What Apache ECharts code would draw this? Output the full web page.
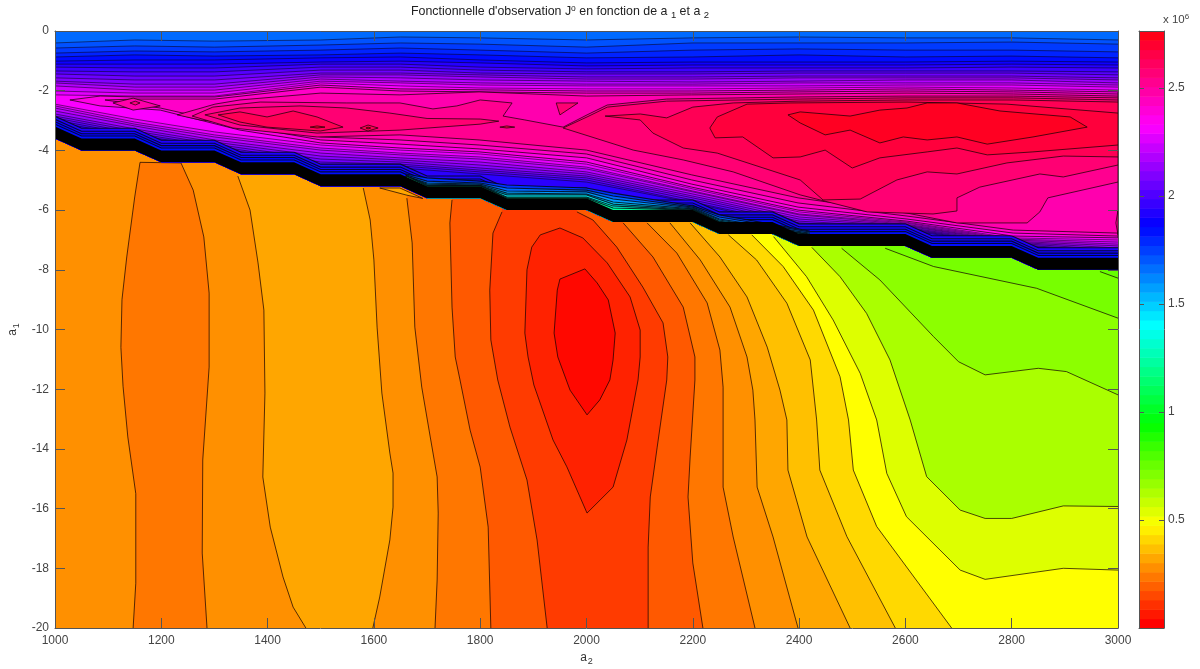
<!DOCTYPE html>
<html>
<head>
<meta charset="utf-8">
<style>html,body{margin:0;padding:0;background:#fff}#chart{width:1200px;height:669px}</style>
<script src="https://cdn.jsdelivr.net/npm/echarts@6/dist/echarts.min.js"></script>
</head>
<body>
<div id="chart"></div>
<script>
// ---- axis ticks and scale (values in units of 10^6 for J°) ----
const xTicks = [1000,3000,200];
const yTicks = [-20,0,2];
const colorMax = 2.764;
const colorbarLabels = [0.5,1,1.5,2,2.5];
const colorbarSteps = [0,.043,.086,.130,.173,.216,.259,.302,.346,.389,.432,.475,.518,.562,.605,.648,.691,.734,.778,.821,.864,.907,.950,.994,1.037,1.080,1.123,1.166,1.210,1.253,1.296,1.339,1.382,1.426,1.469,1.512,1.555,1.598,1.642,1.685,1.728,1.771,1.814,1.858,1.901,1.944,1.987,2.030,2.074,2.117,2.160,2.203,2.246,2.290,2.333,2.376,2.419,2.462,2.506,2.549,2.592,2.635,2.678,2.722];

// ---- dense step (black) between the low and the high part ----
const blackTop = [[1000,-3.2],[1050,-3.6],[1150,-3.6],[1200,-4],[1300,-4],[1350,-4.4],[1450,-4.4],[1500,-4.8],[1650,-4.8],[1700,-5.2],[1800,-5.2],[1850,-5.6],[2000,-5.6],[2050,-6],[2200,-6],[2250,-6.4],[2350,-6.4],[2400,-6.8],[2600,-6.8],[2650,-7.2],[2800,-7.2],[2850,-7.6],[3000,-7.6]];
const blackBottom = [[1000,-3.6],[1050,-4],[1150,-4],[1200,-4.4],[1300,-4.4],[1350,-4.8],[1450,-4.8],[1500,-5.2],[1650,-5.2],[1700,-5.6],[1800,-5.6],[1850,-6],[2000,-6],[2050,-6.4],[2200,-6.4],[2250,-6.8],[2350,-6.8],[2400,-7.2],[2600,-7.2],[2650,-7.6],[2800,-7.6],[2850,-8],[3000,-8]];

// ---- low part: contours running from the step to the lower edge ----
const lowBase = 0.261;
const bLeft = [[1160,-4.4],[1150,-5.56],[1135,-7.57],[1126,-9],[1124,-10.6],[1128,-11.9],[1137,-13.6],[1152,-15.5],[1152,-18.5],[1147,-20]];
const bRight = [[1237,-4.42],[1260,-5.33],[1280,-6.9],[1290,-8.78],[1290,-11.26],[1278,-14.37],[1277,-17.49],[1286,-20]];
const dLeft = [[1344,-4.86],[1367,-6],[1382,-7.77],[1393,-9.35],[1395,-12.13],[1391,-14.94],[1405,-16.62],[1429,-18.29],[1448,-19.3],[1472,-20]];
const dRight = [[1580,-5.26],[1593,-6.33],[1600,-7.67],[1606,-9.92],[1615,-12.13],[1630,-14.14],[1636,-14.81],[1636,-15.95],[1630,-17.05],[1611,-18.96],[1598,-20]];
const sliver = [[1611,-5.26],[1649,-5.26],[1692,-5.61],[1662,-5.5]];
const fLeft = [[1662,-5.6],[1672,-7.1],[1677,-9.92],[1690,-11.93],[1706,-13.6],[1719,-14.94],[1721,-16.15],[1719,-18.39],[1715,-20]];
const gLeft = [[1747,-5.66],[1743,-6.43],[1747,-9.25],[1753,-10.92],[1762,-11.69],[1781,-13.37],[1800,-14.61],[1815,-16.62],[1820,-20]];
const hLeft = [[1841,-6.06],[1824,-6.77],[1818,-8.68],[1820,-10.35],[1833,-11.69],[1856,-13.27],[1888,-15.04],[1907,-17.05],[1926,-20]];
const hRight = [[1982,-6.06],[2012,-6.33],[2057,-7.24],[2106,-8.58],[2144,-9.78],[2153,-10.92],[2151,-11.69],[2133,-13.94],[2120,-15.61],[2116,-17.29],[2116,-20]];
const gRight = [[2069,-6.43],[2125,-7.57],[2182,-9.25],[2204,-10.92],[2204,-11.69],[2195,-14.27],[2191,-15.61],[2200,-17.82],[2219,-20]];
const r6 = [[2114,-6.43],[2170,-7.44],[2227,-9.11],[2251,-10.69],[2257,-11.93],[2257,-15.28],[2276,-16.95],[2317,-20]];
const r7 = [[2157,-6.43],[2214,-7.67],[2270,-9.25],[2302,-10.92],[2313,-12.03],[2317,-13.03],[2321,-15.28],[2351,-16.95],[2398,-20]];
const r8 = [[2195,-6.43],[2251,-7.57],[2302,-8.91],[2340,-10.59],[2364,-12.03],[2377,-13.03],[2379,-14.71],[2415,-16.95],[2496,-20]];
const r9 = [[2267,-6.83],[2320,-7.67],[2377,-9.12],[2421,-11.02],[2433,-13.03],[2439,-14.71],[2490,-16.94],[2581,-20]];
const r10 = [[2311,-6.83],[2370,-7.89],[2427,-9.35],[2477,-11.58],[2493,-13.03],[2502,-14.71],[2546,-16.6],[2687,-20]];
const r11 = [[2352,-6.89],[2414,-8.23],[2464,-9.68],[2515,-11.47],[2546,-13.03],[2565,-14.82],[2602,-16.27],[2703,-18.06],[2750,-18.37],[2897,-18],[3000,-18.06]];
const r12 = [[2424,-7.25],[2477,-8.23],[2527,-9.46],[2571,-11.02],[2609,-13.03],[2640,-14.93],[2703,-16.05],[2750,-16.33],[2800,-16.33],[2897,-15.91],[3000,-15.93]];
const r13 = [[2480,-7.28],[2552,-8.34],[2653,-10.24],[2700,-11.08],[2750,-11.52],[2850,-11.3],[2903,-11.41],[3000,-12.19]];
const r14 = [[2562,-7.28],[2653,-7.89],[2847,-8.62],[3000,-9.62]];
const r15 = [[2966,-8.06],[3000,-8.28]];
const midLoop = [[1950,-6.6],[1913,-6.83],[1897,-7.24],[1888,-8],[1884,-10.12],[1890,-10.92],[1901,-11.86],[1937,-13.7],[1963,-14.6],[2001,-16.15],[2050,-15.28],[2076,-13.7],[2097,-11.69],[2101,-10.92],[2101,-10.02],[2082,-8.91],[2039,-7.77],[1993,-6.93]];
const innerLoop = [[1997,-7.97],[1950,-8.31],[1945,-8.68],[1939,-10.12],[1946,-10.92],[1969,-12.03],[2001,-12.86],[2025,-12.36],[2044,-11.69],[2050,-11.02],[2054,-10.12],[2041,-9.01],[2020,-8.44]];

// ---- high part, upper flank: contour heights at shared a2 columns ----
const flankX = [1000,1150,1300,1500,1650,1800,2000,2200,2400,2600,2800,3000];
const topBase = 1.651;
const topLevels = [1.694,1.737,1.780,1.823,1.866,1.909,1.952,1.995,2.039,2.082,2.125,2.168,2.211,2.254,2.297];
const top01 = [-.40,-.30,-.34,-.30,-.20,-.23,-.30,-.23,-.20,-.23,-.23,-.30];
const top02 = [-.57,-.50,-.54,-.47,-.40,-.44,-.54,-.40,-.40,-.40,-.37,-.44];
const top03 = [-.74,-.67,-.70,-.64,-.57,-.64,-.74,-.64,-.60,-.64,-.64,-.70];
const top04 = [-.87,-.80,-.84,-.80,-.74,-.80,-.90,-.87,-.80,-.87,-.84,-.90];
const top05 = [-1.01,-.97,-.97,-.90,-.87,-.97,-1.07,-1.04,-1.04,-1.04,-1.01,-1.04];
const top06 = [-1.11,-1.11,-1.11,-1.04,-1.01,-1.07,-1.17,-1.14,-1.14,-1.14,-1.11,-1.14];
const top07 = [-1.21,-1.24,-1.24,-1.11,-1.11,-1.21,-1.27,-1.24,-1.24,-1.24,-1.21,-1.24];
const top08 = [-1.34,-1.37,-1.37,-1.21,-1.21,-1.31,-1.37,-1.37,-1.34,-1.34,-1.34,-1.37];
const top09 = [-1.44,-1.51,-1.51,-1.31,-1.31,-1.41,-1.44,-1.44,-1.41,-1.41,-1.41,-1.47];
const top10 = [-1.57,-1.64,-1.64,-1.41,-1.41,-1.47,-1.54,-1.54,-1.51,-1.51,-1.51,-1.57];
const top11 = [-1.68,-1.78,-1.78,-1.47,-1.47,-1.54,-1.61,-1.61,-1.57,-1.57,-1.57,-1.64];
const top12 = [-1.74,-1.88,-1.88,-1.54,-1.57,-1.64,-1.68,-1.71,-1.68,-1.64,-1.64,-1.74];
const top13 = [-1.84,-1.98,-1.98,-1.61,-1.68,-1.74,-1.78,-1.78,-1.74,-1.74,-1.74,-1.81];
const top14 = [-2.01,-2.08,-2.08,-1.68,-1.74,-1.81,-1.84,-1.84,-1.84,-1.81,-1.81,-1.88];
const top15 = [-2.14,-2.18,-2.18,-1.74,-1.84,-1.91,-1.94,-1.94,-1.91,-1.88,-1.91,-1.98];

// ---- high part, lower flank ----
const lowLevels = [2.265,2.219,2.181,2.134,2.088,2.050,2.004,1.966,1.920];
const low01 = [-2.45,-2.95,-3.38,-3.82,-3.99,-4.12,-4.46,-5.29,-6.06,-6.40,-6.93,-7.00];
const low02 = [-2.51,-3.05,-3.48,-3.92,-4.09,-4.22,-4.56,-5.36,-6.13,-6.43,-6.97,-7.07];
const low03 = [-2.58,-3.12,-3.55,-3.99,-4.15,-4.29,-4.62,-5.39,-6.16,-6.47,-7.00,-7.14];
const low04 = [-2.68,-3.18,-3.65,-4.09,-4.25,-4.39,-4.72,-5.46,-6.23,-6.50,-7.04,-7.20];
const low05 = [-2.78,-3.28,-3.72,-4.19,-4.32,-4.49,-4.79,-5.53,-6.30,-6.53,-7.07,-7.27];
const low06 = [-2.85,-3.35,-3.79,-4.29,-4.39,-4.59,-4.86,-5.59,-6.37,-6.57,-7.10,-7.34];
const low07 = [-2.91,-3.42,-3.85,-4.39,-4.46,-4.66,-4.92,-5.66,-6.43,-6.60,-7.14,-7.40];
const low08 = [-2.98,-3.48,-3.89,-4.49,-4.52,-4.72,-4.99,-5.73,-6.50,-6.63,-7.17,-7.44];
const low09 = [-3.05,-3.52,-3.92,-4.56,-4.59,-4.79,-5.06,-5.76,-6.57,-6.67,-7.17,-7.50];

// ---- contours that follow the staircase just above the black step ----
const edgeX = [1000,1050,1150,1200,1300,1350,1450,1500,1650,1700,1800,1850,2000,2050,2200,2250,2350,2400,2600,2650,2800,2850,3000];
const edgeLevels = [1.900,1.880,1.850,1.820];
const edge1 = [-2.86,-3.26,-3.26,-3.66,-3.66,-4.06,-4.06,-4.46,-4.46,-4.86,-4.86,-5.26,-5.26,-5.66,-5.66,-6.06,-6.06,-6.46,-6.46,-6.86,-6.86,-7.26,-7.26];
const edge2 = [-2.96,-3.36,-3.36,-3.76,-3.76,-4.16,-4.16,-4.56,-4.56,-4.96,-4.96,-5.36,-5.36,-5.76,-5.76,-6.16,-6.16,-6.56,-6.56,-6.96,-6.96,-7.36,-7.36];
const edge3 = [-3.04,-3.44,-3.44,-3.84,-3.84,-4.24,-4.24,-4.64,-4.64,-5.04,-5.04,-5.44,-5.44,-5.84,-5.84,-6.24,-6.24,-6.64,-6.64,-7.04,-7.04,-7.44,-7.44];
const edge4 = [-3.12,-3.52,-3.52,-3.92,-3.92,-4.32,-4.32,-4.72,-4.72,-5.12,-5.12,-5.52,-5.52,-5.92,-5.92,-6.32,-6.32,-6.72,-6.72,-7.12,-7.12,-7.52,-7.52];

// ---- cyan and teal contours packed against the middle of the step ----
const tealX = [1660,1700,1800,1850,2000,2050,2200,2250,2420];
const tealLevels = [1.751,1.658,1.566,1.474,1.382,1.290,1.198];
const teal1 = [-4.79,-4.92,-5.03,-5.16,-5.26,-5.43,-5.86,-6.16,-6.70];
const teal2 = [-4.82,-5.03,-5.09,-5.26,-5.33,-5.53,-5.90,-6.23,-6.73];
const teal3 = [-4.86,-5.09,-5.13,-5.36,-5.39,-5.63,-5.93,-6.30,-6.77];
const teal4 = [-4.86,-5.13,-5.16,-5.43,-5.46,-5.73,-5.96,-6.33,-6.80];
const teal5 = [-4.86,-5.16,-5.19,-5.49,-5.49,-5.80,-5.98,-6.37,-6.83];
const teal6 = [-4.86,-5.19,-5.19,-5.56,-5.56,-5.86,-6.00,-6.40,-6.83];
const teal7 = [-4.86,-5.19,-5.19,-5.59,-5.59,-5.93,-6.00,-6.40,-6.83];

// ---- high part, closed contours around the crest ----
const crest306 = [[1028,-2.31],[1085,-2.18],[1151,-2.21],[1301,-2.21],[1500,-1.81],[1649,-1.94],[2000,-2.01],[2198,-2.01],[2398,-1.98],[2603,-1.94],[2803,-1.98],[3000,-2.04],[3000,-6.93],[2803,-6.87],[2603,-6.37],[2398,-6.0],[2198,-5.23],[2000,-4.39],[1798,-4.05],[1649,-3.92],[1500,-3.75],[1348,-3.32],[1198,-2.65],[1085,-2.51]];
const crest313 = [[1094,-2.31],[1151,-2.28],[1301,-2.28],[1500,-1.88],[1649,-2.01],[2000,-2.08],[2198,-2.08],[2398,-2.04],[2603,-2.01],[2803,-2.04],[3000,-2.11],[3000,-6.87],[2803,-6.77],[2603,-6.30],[2398,-5.90],[2198,-5.13],[2000,-4.25],[1798,-3.95],[1649,-3.79],[1500,-3.65],[1348,-3.18],[1198,-2.58]];
const crest319 = [[1230,-2.81],[1301,-2.45],[1348,-2.31],[1500,-2.08],[1649,-2.14],[1798,-2.04],[2000,-2.18],[2198,-2.14],[2398,-2.11],[2603,-2.08],[2803,-2.11],[3000,-2.18],[3000,-6.77],[2803,-6.67],[2603,-6.20],[2398,-5.76],[2198,-4.99],[2000,-4.12],[1798,-3.82],[1649,-3.65],[1500,-3.55],[1348,-3.12],[1273,-2.98]];
const crest326 = [[1258,-2.85],[1297,-2.55],[1386,-2.38],[1549,-2.41],[1649,-2.41],[1711,-2.61],[1756,-2.51],[1800,-2.31],[1860,-2.41],[1843,-2.85],[1884,-2.98],[1956,-3.22],[2001,-2.81],[2039,-2.48],[2151,-2.28],[2398,-2.21],[2603,-2.18],[2803,-2.18],[3000,-2.24],[3000,-5.06],[2868,-5.59],[2853,-6.06],[2829,-6.43],[2697,-6.43],[2603,-6.10],[2398,-5.59],[2198,-4.82],[2000,-3.99],[1798,-3.65],[1649,-3.48],[1493,-3.55],[1335,-3.25]];
const crest333a = [[1282,-2.81],[1348,-2.58],[1461,-2.51],[1549,-2.58],[1630,-2.75],[1700,-2.93],[1800,-2.95],[1835,-3.02],[1800,-3.12],[1649,-3.32],[1493,-3.42],[1348,-3.15]];
const crest333b = [[1956,-3.25],[2001,-2.88],[2039,-2.55],[2151,-2.35],[2398,-2.28],[2603,-2.24],[2803,-2.24],[3000,-2.31],[3000,-4.49],[2897,-4.89],[2853,-4.79],[2740,-5.23],[2697,-5.59],[2697,-6.03],[2652,-6.13],[2528,-6.06],[2402,-5.49],[2276,-4.72],[2182,-4.32],[2088,-3.99]];
const crest340a = [[1307,-2.81],[1348,-2.71],[1399,-2.88],[1448,-2.68],[1493,-2.88],[1542,-3.22],[1499,-3.35],[1399,-3.22],[1348,-3.05]];
const crest340b = [[2035,-2.85],[2101,-2.78],[2151,-2.91],[2200,-2.55],[2276,-2.41],[2398,-2.35],[2603,-2.31],[2803,-2.31],[3000,-2.38],[3000,-4.22],[2897,-4.19],[2791,-4.42],[2697,-4.79],[2641,-4.72],[2584,-4.99],[2515,-5.63],[2445,-5.66],[2402,-4.99],[2246,-4.09],[2182,-3.92],[2125,-3.42],[2101,-2.98]];
const crest346 = [[2232,-3.25],[2246,-2.88],[2302,-2.45],[2383,-2.41],[2603,-2.38],[2791,-2.45],[3000,-2.75],[3000,-3.82],[2840,-4.05],[2754,-4.15],[2697,-3.92],[2641,-4.05],[2552,-4.25],[2500,-4.59],[2449,-3.99],[2402,-4.22],[2351,-4.25],[2294,-3.55],[2242,-3.58]];
const crest352 = [[2379,-2.81],[2402,-2.71],[2496,-2.85],[2552,-2.65],[2603,-2.58],[2641,-2.41],[2697,-2.41],[2778,-2.68],[2910,-2.88],[2942,-3.22],[2840,-3.55],[2754,-3.79],[2697,-3.55],[2641,-3.65],[2596,-3.55],[2552,-3.75],[2496,-3.32],[2449,-3.48],[2402,-3.08]];
const isle1 = [[1109,-2.41],[1147,-2.25],[1198,-2.51],[1147,-2.65]];
const isle1b = [[1141,-2.41],[1151,-2.35],[1160,-2.41],[1151,-2.48]];
const isle2 = [[1480,-3.22],[1493,-3.18],[1508,-3.22],[1493,-3.25]];
const isle3 = [[1574,-3.25],[1589,-3.15],[1608,-3.25],[1589,-3.35]];
const isle3b = [[1585,-3.25],[1589,-3.22],[1594,-3.25],[1589,-3.28]];
const isle4 = [[1837,-3.22],[1850,-3.18],[1865,-3.22],[1850,-3.25]];
const isle5 = [[1943,-2.41],[1984,-2.41],[1950,-2.81]];
const isle6 = [[3000,-6.0],[2996,-6.43],[3000,-6.83]];

// ---- colour scale: MATLAB hsv, value to hue ----
function hsvColor(v){
  const h = (v / colorMax * 360) % 360, s = h / 60, i = Math.floor(s), f = s - i;
  const q = Math.round(255 * (1 - f)), t = Math.round(255 * f);
  const rgb = [[255,t,0],[q,255,0],[0,255,t],[0,q,255],[t,0,255],[255,0,q]][i];
  return 'rgb(' + rgb.join(',') + ')';
}

// ---- painter's list of contour regions: fill outline plus drawn lines ----
const UP = -3;
const regions = [];
const zipCols = (xs, ys) => xs.map((x, i) => [x, ys[i]]);
const rev = a => a.slice().reverse();
const LINE_MAIN = {stroke: 'rgba(20,0,0,0.8)', lineWidth: 0.9};
const LINE_FLANK = {stroke: 'rgba(10,0,20,0.72)', lineWidth: 0.75};
const LINE_TEAL = {stroke: 'rgba(0,10,20,0.85)', lineWidth: 1.1};
function add(level, fill, lines, pen){ regions.push({color: hsvColor(level), fill, lines, pen: pen || LINE_MAIN}); }
function pair(level, l, r){
  add(level, [...l, ...rev(r), [r[0][0], UP], [l[0][0], UP]], [l, r]);
}
function rightOf(level, c){
  const last = c[c.length - 1];
  add(level, [...c, [3000, last[1]], [3000, UP], [c[0][0], UP]], [c]);
}
function loop(level, c){ add(level, c, [[...c, c[0]]]); }
function below(level, c, pen){
  const a = c[0][0], b = c[c.length - 1][0];
  const floor = blackBottom.filter(p => p[0] >= a && p[0] <= b);
  add(level, [...c, ...rev(floor)], [c], pen);
}

add(lowBase, [[1000,UP],[3000,UP],[3000,-20],[1000,-20]], []);
add(0.215, [...bLeft, ...rev(bRight)], [[...bLeft], [...bRight], [bLeft[0], bRight[0]]]);
pair(0.299, dLeft, dRight);
pair(0.215, fLeft, r6);
loop(0.299, sliver);
pair(0.161, gLeft, gRight);
pair(0.107, hLeft, hRight);
loop(0.061, midLoop);
loop(0.015, innerLoop);
rightOf(0.299, r7);
rightOf(0.346, r8);
rightOf(0.392, r9);
rightOf(0.461, r10);
rightOf(0.522, r11);
rightOf(0.614, r12);
rightOf(0.668, r13);
rightOf(0.706, r14);
rightOf(0.737, r15);

add(topBase, [[1000,0],[3000,0],...rev(blackBottom)], []);
[top01,top02,top03,top04,top05,top06,top07,top08,top09,top10,top11,top12,top13,top14,top15]
  .forEach((ys, i) => below(topLevels[i], zipCols(flankX, ys), LINE_FLANK));
[low01,low02,low03,low04,low05,low06,low07,low08,low09]
  .forEach((ys, i) => below(lowLevels[i], zipCols(flankX, ys), LINE_FLANK));
[edge1,edge2,edge3,edge4]
  .forEach((ys, i) => below(edgeLevels[i], zipCols(edgeX, ys), LINE_TEAL));
[teal1,teal2,teal3,teal4,teal5,teal6,teal7]
  .forEach((ys, i) => below(tealLevels[i], zipCols(tealX, ys), LINE_TEAL));

loop(2.349, crest306);
loop(2.403, crest313);
loop(2.457, isle1);
loop(2.534, isle1b);
loop(2.449, crest319);
loop(2.503, crest326);
loop(2.557, crest333a);
loop(2.557, crest333b);
loop(2.610, crest340a);
loop(2.610, crest340b);
loop(2.656, crest346);
loop(2.703, crest352);
loop(2.687, isle2);
loop(2.610, isle3);
loop(2.687, isle3b);
loop(2.649, isle4);
loop(2.557, isle5);
loop(2.495, isle6);

const renderRegion = (params, api) => {
  const r = regions[api.value(2)];
  const children = [{
    type: 'polygon',
    shape: {points: r.fill.map(p => api.coord(p))},
    style: {fill: r.color, stroke: null},
    silent: true
  }];
  r.lines.forEach(l => children.push({
    type: 'polyline',
    shape: {points: l.map(p => api.coord(p))},
    style: {stroke: r.pen.stroke, lineWidth: r.pen.lineWidth, fill: null},
    silent: true
  }));
  return {type: 'group', children};
};
// the black step goes on last
regions.push({color: '#000', fill: [...blackTop, ...rev(blackBottom)], lines: [], pen: LINE_MAIN});

const renderBar = (params, api) => {
  const i = api.value(2);
  const lo = colorbarSteps[i], hi = i + 1 < colorbarSteps.length ? colorbarSteps[i + 1] : colorMax;
  const a = api.coord([0, hi]), b = api.coord([1, lo]);
  return {
    type: 'rect',
    shape: {x: a[0], y: a[1], width: b[0] - a[0], height: b[1] - a[1] + 0.5},
    style: {fill: hsvColor(lo), stroke: null},
    silent: true
  };
};

const FONT = '"Liberation Sans", Arial, sans-serif';
const AXC = '#555';
const lbl = {color: '#444', fontFamily: FONT, fontSize: 12};
const sub = {fontSize: 9, fontFamily: FONT, color: '#333', verticalAlign: 'bottom', lineHeight: 16, padding: [5,0,0,1]};
const line = {onZero: false, lineStyle: {color: AXC, width: 1}};
const plain = v => String(v);

const option = {
  animation: false,
  backgroundColor: '#fff',
  title: [
    {left: 411, top: 4, padding: 0,
     text: "{t|Fonctionnelle d'observation J}{u|o}{t| en fonction de a }{d|1}{t| et a }{d|2}",
     textStyle: {fontWeight: 'normal', rich: {
       t: {fontSize: 12.4, fontWeight: 'normal', fontFamily: FONT, color: '#222', lineHeight: 16},
       u: {fontSize: 8.5, fontWeight: 'normal', fontFamily: FONT, color: '#222', verticalAlign: 'top', lineHeight: 12},
       d: {fontSize: 9.5, fontWeight: 'normal', fontFamily: FONT, color: '#222', verticalAlign: 'bottom', lineHeight: 12, padding: [5,0,0,0]}
     }}},
    {left: 1163, top: 13, padding: 0,
     text: '{t|x 10}{u|6}',
     textStyle: {fontWeight: 'normal', rich: {
       t: {fontSize: 11.5, fontWeight: 'normal', fontFamily: FONT, color: '#444', lineHeight: 14},
       u: {fontSize: 8, fontWeight: 'normal', fontFamily: FONT, color: '#444', verticalAlign: 'top', lineHeight: 10}
     }}}
  ],
  grid: [
    {left: 55, right: 82, top: 31, bottom: 41, containLabel: false, outerBoundsMode: 'none'},
    {left: 1139, width: 25, top: 31, bottom: 41, containLabel: false, outerBoundsMode: 'none'}
  ],
  xAxis: [
    {type: 'value', gridIndex: 0, position: 'bottom', min: xTicks[0], max: xTicks[1], interval: xTicks[2], z: 5,
     axisLine: line, splitLine: {show: false},
     axisTick: {inside: true, length: 10, lineStyle: {color: AXC}},
     axisLabel: {...lbl, margin: 7, showMinLabel: true, showMaxLabel: true, formatter: plain},
     name: '{a|a}{s|2}', nameLocation: 'middle', nameGap: 18,
     nameTextStyle: {rich: {a: {...lbl, color: '#333', lineHeight: 16}, s: sub}}},
    {type: 'value', gridIndex: 0, position: 'top', min: xTicks[0], max: xTicks[1], interval: xTicks[2], z: 5,
     axisLine: line, splitLine: {show: false},
     axisTick: {inside: true, length: 10, lineStyle: {color: AXC}}, axisLabel: {show: false}},
    {type: 'value', gridIndex: 1, position: 'bottom', min: 0, max: 1, z: 5,
     axisLine: line, splitLine: {show: false}, axisTick: {show: false}, axisLabel: {show: false}},
    {type: 'value', gridIndex: 1, position: 'top', min: 0, max: 1, z: 5,
     axisLine: line, splitLine: {show: false}, axisTick: {show: false}, axisLabel: {show: false}}
  ],
  yAxis: [
    {type: 'value', gridIndex: 0, position: 'left', min: yTicks[0], max: yTicks[1], interval: yTicks[2], z: 5,
     axisLine: line, splitLine: {show: false},
     axisTick: {inside: true, length: 10, lineStyle: {color: AXC}},
     axisLabel: {...lbl, margin: 6, showMinLabel: true, showMaxLabel: true},
     name: '{a|a}{s|1}', nameLocation: 'middle', nameGap: 32, nameRotate: 90,
     nameTextStyle: {rich: {a: {...lbl, color: '#333', lineHeight: 16}, s: sub}}},
    {type: 'value', gridIndex: 0, position: 'right', min: yTicks[0], max: yTicks[1], interval: yTicks[2], z: 5,
     axisLine: line, splitLine: {show: false},
     axisTick: {inside: true, length: 10, lineStyle: {color: AXC}}, axisLabel: {show: false}},
    {type: 'value', gridIndex: 1, position: 'left', min: 0, max: colorMax, z: 5,
     axisLine: line, splitLine: {show: false},
     axisTick: {inside: true, length: 5, customValues: colorbarLabels, lineStyle: {color: AXC}}, axisLabel: {show: false}},
    {type: 'value', gridIndex: 1, position: 'right', min: 0, max: colorMax, z: 5,
     axisLine: line, splitLine: {show: false},
     axisTick: {inside: true, length: 5, customValues: colorbarLabels, lineStyle: {color: AXC}},
     axisLabel: {...lbl, margin: 4, customValues: colorbarLabels, formatter: plain}}
  ],
  series: [
    {type: 'custom', name: 'J', coordinateSystem: 'cartesian2d', xAxisIndex: 0, yAxisIndex: 0, z: 2, clip: true,
     progressive: 0, silent: true, renderItem: renderRegion, encode: {x: 0, y: 1},
     data: regions.map((r, i) => [r.fill[0][0], r.fill[0][1], i])},
    {type: 'custom', name: 'colorbar', coordinateSystem: 'cartesian2d', xAxisIndex: 2, yAxisIndex: 3, z: 2, clip: true,
     progressive: 0, silent: true, renderItem: renderBar, encode: {x: 0, y: 1},
     data: colorbarSteps.map((v, i) => [0.5, v, i])}
  ]
};
echarts.init(document.getElementById('chart'), null, {renderer: 'canvas'}).setOption(option);
</script>
</body>
</html>
